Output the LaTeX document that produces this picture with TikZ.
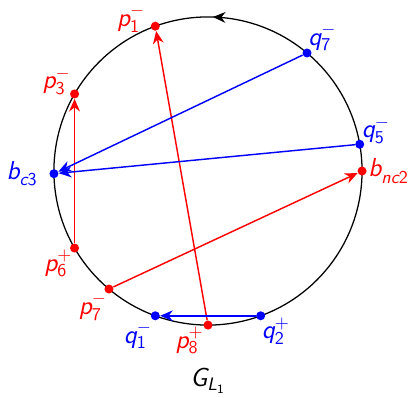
\documentclass[tikz,border=0pt]{standalone}
\usetikzlibrary{positioning,arrows.meta,decorations.markings}

\DeclareMathAlphabet{\mathsi}{TU}{lmss}{m}{sl}
\newcommand{\pt}[3]{$\mathsi{#1}_{#2}^{#3}$}

\tikzset{
  dotred/.style={circle,fill=red,inner sep=0pt,minimum size=5pt},
  dotblue/.style={circle,fill=blue,inner sep=0pt,minimum size=5pt},
  lbl/.style={inner sep=1pt,font=\Large},
  edgered/.style={red,line width=0.8pt,-{Stealth[length=7pt,width=6pt]}},
  edgeblue/.style={blue,line width=0.8pt,-{Stealth[length=7pt,width=6pt]}}
}

\begin{document}
\begin{tikzpicture}
    \useasboundingbox (-4.05,-4.42) rectangle (4.07,3.33);

    % Kreis mit Umlaufrichtung
    \draw[line width=0.7pt,postaction={decorate},
      decoration={markings,mark=at position 0.245 with {\arrow{Stealth[length=7pt,width=6pt]}}}]
      (0:3) arc (0:360:3);

    % Punkte auf dem Kreis
    \node[dotred]  (p1)   at (110:3) {};
    \node[dotred]  (p3)   at (150:3) {};
    \node[dotblue] (bc3)  at (181:3) {};
    \node[dotred]  (p6)   at (210:3) {};
    \node[dotred]  (p7)   at (230:3) {};
    \node[dotblue] (q1)   at (250:3) {};
    \node[dotred]  (p8)   at (270:3) {};
    \node[dotblue] (q2)   at (290:3) {};
    \node[dotred]  (bnc2) at (0:3)   {};
    \node[dotblue] (q5)   at (10:3)  {};
    \node[dotblue] (q7)   at (50:3)  {};

    % Sehnen
    \draw[edgered]  (p8) -- (p1);
    \draw[edgered]  (p6) -- (p3);
    \draw[edgered]  (p7) -- (bnc2);
    \draw[edgeblue] (q7) -- (bc3);
    \draw[edgeblue] (q5) -- (bc3);
    \draw[edgeblue] (q2) -- (q1);

    % Beschriftungen
    \node[lbl,red,anchor=south east]  (lp1)   at ([shift={(-4.5pt,-4.5pt)}]p1.center) {\pt{p}{\mathsf{1}}{-}};
    \node[lbl,red,anchor=south east]  (lp3)   at ([shift={(-1pt,-1.5pt)}]p3.center)   {\pt{p}{\mathsf{3}}{-}};
    \node[lbl,blue,anchor=east]       (lbc3)  at ([shift={(-7.9pt,0pt)}]bc3.center)   {\pt{b}{\mathsi{c}\mathsf{3}}{}};
    \node[lbl,red,anchor=north east]  (lp6)   at ([shift={(0pt,0pt)}]p6.center)       {\pt{p}{\mathsf{6}}{+}};
    \node[lbl,red,anchor=north east]  (lp7)   at ([shift={(0pt,-1.2pt)}]p7.center)    {\pt{p}{\mathsf{7}}{-}};
    \node[lbl,blue,anchor=north east] (lq1)   at ([shift={(-0.7pt,-2.3pt)}]q1.center) {\pt{q}{\mathsf{1}}{-}};
    \node[lbl,red,anchor=north east]  (lp8)   at ([shift={(-1.2pt,0pt)}]p8.center)    {\pt{p}{\mathsf{8}}{+}};
    \node[lbl,blue,anchor=north west] (lq2)   at ([shift={(-0.5pt,0pt)}]q2.center)    {\pt{q}{\mathsf{2}}{+}};
    \node[lbl,red,anchor=west]        (lbnc2) at ([shift={(2.3pt,0pt)}]bnc2.center)   {\pt{b}{\mathsi{nc}\mathsf{2}}{}};
    \node[lbl,blue,anchor=south west] (lq5)   at ([shift={(0pt,-0.7pt)}]q5.center)    {\pt{q}{\mathsf{5}}{-}};
    \node[lbl,blue,anchor=south west] (lq7)   at ([shift={(-0.5pt,0pt)}]q7.center)    {\pt{q}{\mathsf{7}}{-}};
    \node[lbl] (gl) at (0,-4.09) {$\mathsi{G}_{\mathsi{L}_{\mathsf{1}}}$};
\end{tikzpicture}
\end{document}
